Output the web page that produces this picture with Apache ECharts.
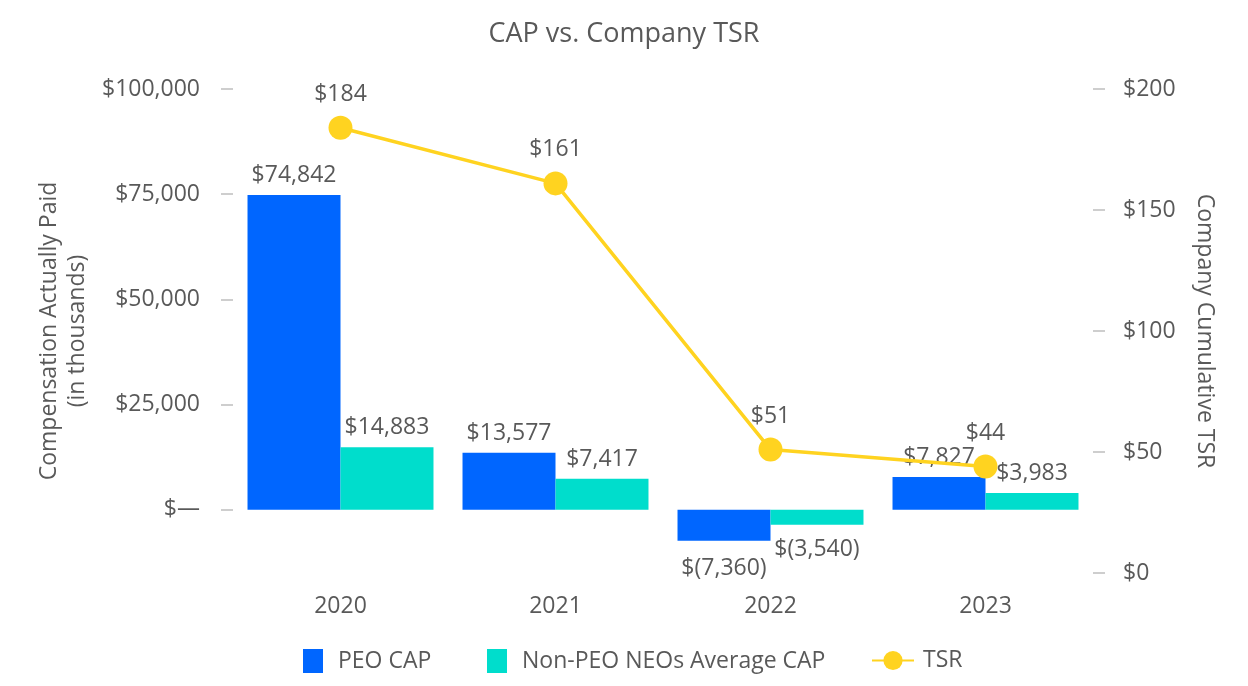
<!DOCTYPE html>
<html>
<head>
<meta charset="utf-8">
<script src="https://cdn.jsdelivr.net/npm/echarts@6/dist/echarts.min.js"></script>
<style>html,body{margin:0;padding:0;background:#fff}#c{width:1248px;height:686px}</style>
</head>
<body>
<div id="c"></div>
<script>
const categories = ['2020', '2021', '2022', '2023'];
const peoCap = [74842, 13577, -7360, 7827];
const nonPeoCap = [14883, 7417, -3540, 3983];
const tsr = [184, 161, 51, 44];
const leftTicks = [0, 25000, 50000, 75000, 100000];
const rightTicks = [0, 50, 100, 150, 200];

const FONT = '"Open Sans", "Noto Sans", sans-serif';
const TXT = '#595959';
const BLUE = '#0066FF';
const TEAL = '#00DDCC';
const YEL = '#FFD320';
const FS = 23;

function money(v) {
  if (v === 0) return '$\u2014';
  const s = Math.abs(v).toLocaleString('en-US');
  return v < 0 ? '$(' + s + ')' : '$' + s;
}
function barData(arr, negDist) {
  return arr.map(v => ({
    value: v,
    label: v < 0 ? { position: 'bottom', distance: negDist } : { position: 'top' }
  }));
}
const barLabel = {
  show: true, color: TXT, fontSize: FS, fontFamily: FONT, distance: 8,
  formatter: p => money(p.value)
};
const legText = { color: TXT, fontSize: FS, fontFamily: FONT, padding: [0, 0, 0, 10] };

const chart = echarts.init(document.getElementById('c'));
chart.setOption({
  animation: false,
  textStyle: { fontFamily: FONT },
  title: {
    text: 'CAP vs. Company TSR', left: 'center', top: 16,
    textStyle: { color: TXT, fontSize: 27, fontWeight: 'normal', fontFamily: FONT }
  },
  grid: { left: 233, right: 155, top: 89, bottom: 113 },
  legend: [{
    data: ['PEO CAP'],
    left: 298, top: 644, itemWidth: 20, itemHeight: 24, icon: 'rect',
    textStyle: legText
  }, {
    data: ['Non-PEO NEOs Average CAP'],
    left: 482, top: 644, itemWidth: 20, itemHeight: 24, icon: 'rect',
    textStyle: legText
  }, {
    data: ['TSR'],
    left: 866, top: 644, itemWidth: 42, itemHeight: 24,
    textStyle: { color: TXT, fontSize: FS, fontFamily: FONT, padding: [0, 0, 0, 4] }
  }],
  xAxis: {
    type: 'category', data: categories,
    axisLine: { show: false, onZero: false }, axisTick: { show: false },
    axisLabel: { color: TXT, fontSize: FS, fontFamily: FONT, margin: 22 }
  },
  yAxis: [{
    type: 'value', min: -15000, max: 100000, position: 'left',
    name: 'Compensation Actually Paid\n(in thousands)',
    nameLocation: 'middle', nameRotate: 90, nameGap: 142,
    nameTextStyle: { color: TXT, fontSize: FS, fontFamily: FONT, lineHeight: 28 },
    axisLine: { show: false },
    splitLine: { show: false },
    axisTick: { show: true, length: 12, customValues: leftTicks, lineStyle: { color: '#BFBFBF', width: 1.5 } },
    axisLabel: { color: TXT, fontSize: FS, fontFamily: FONT, margin: 33, customValues: leftTicks, formatter: v => money(v) }
  }, {
    type: 'value', min: 0, max: 200, interval: 50, position: 'right',
    name: 'Company Cumulative TSR',
    nameLocation: 'middle', nameRotate: -90, nameGap: 100,
    nameTextStyle: { color: TXT, fontSize: FS, fontFamily: FONT },
    axisLine: { show: false },
    splitLine: { show: false },
    axisTick: { show: true, length: 12, customValues: rightTicks, lineStyle: { color: '#BFBFBF', width: 1.5 } },
    axisLabel: { color: TXT, fontSize: FS, fontFamily: FONT, margin: 30, customValues: rightTicks, formatter: v => '$' + v }
  }],
  series: [{
    name: 'PEO CAP', type: 'bar', yAxisIndex: 0, data: barData(peoCap, 16),
    itemStyle: { color: BLUE }, barGap: '0%', barCategoryGap: '13.5%',
    label: barLabel
  }, {
    name: 'Non-PEO NEOs Average CAP', type: 'bar', yAxisIndex: 0, data: barData(nonPeoCap, 13),
    itemStyle: { color: TEAL }, barGap: '0%', barCategoryGap: '13.5%',
    label: barLabel
  }, {
    name: 'TSR', type: 'line', yAxisIndex: 1, data: tsr, z: 5,
    symbol: 'circle', symbolSize: 24,
    lineStyle: { color: YEL, width: 3.5 }, itemStyle: { color: YEL },
    label: { show: true, position: 'top', distance: 10, color: TXT, fontSize: FS, fontFamily: FONT, formatter: p => '$' + p.value }
  }]
});
</script>
</body>
</html>
